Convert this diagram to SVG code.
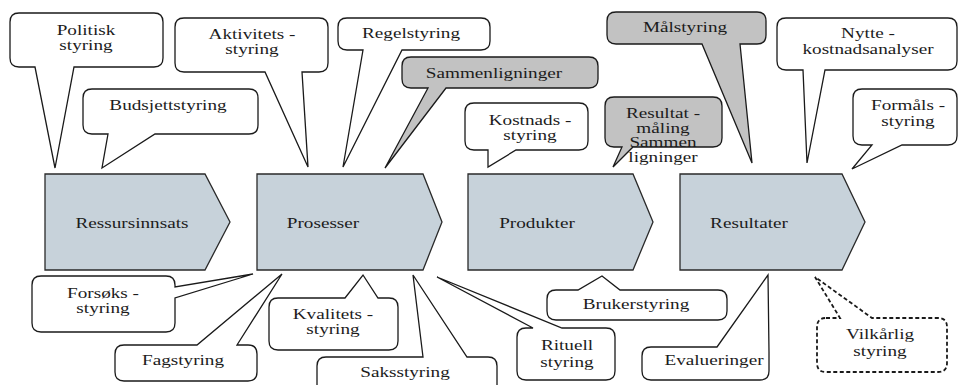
<svg xmlns="http://www.w3.org/2000/svg" width="960" height="385" viewBox="0 0 960 385">
<style>
.bg{fill:#ffffff}
.chev{fill:#c7d2da;stroke:#2a2a2a;stroke-width:1.3}
.call{fill:#ffffff;stroke:#1a1a1a;stroke-width:1.3;stroke-linejoin:miter}
.gray{fill:#c2c2c2;stroke:#1a1a1a;stroke-width:1.3}
.dash{fill:#ffffff;stroke:#1a1a1a;stroke-width:1.8;stroke-dasharray:4 2.5}
text{font-family:"Liberation Serif","Times New Roman",serif;font-size:15px;fill:#1c1c1c;text-anchor:middle}
</style>
<rect class="bg" x="0" y="0" width="960" height="385"/>

<g id="ressursinnsats">
<path class="chev" d="M45,174 H205 L230,222 L205,270 H45 Z"/>
<text transform="translate(132,228) scale(1.28,1)">Ressursinnsats</text>
</g>
<g id="prosesser">
<path class="chev" d="M257,174 H423 L442,222 L423,270 H257 Z"/>
<text transform="translate(323,228) scale(1.28,1)">Prosesser</text>
</g>
<g id="produkter">
<path class="chev" d="M468,174 H633 L653,222 L633,270 H468 Z"/>
<text transform="translate(537,228) scale(1.28,1)">Produkter</text>
</g>
<g id="resultater">
<path class="chev" d="M680,174 H842 L865,222 L842,270 H680 Z"/>
<text transform="translate(749,228) scale(1.28,1)">Resultater</text>
</g>

<g id="politisk-styring">
<path class="call" d="M19,13 H154 Q163,13 163,22 V58 Q163,67 154,67 H74 L55,168 L35,67 H19 Q10,67 10,58 V22 Q10,13 19,13 Z"/>
<text transform="translate(86,35) scale(1.28,1)">Politisk</text>
<text transform="translate(86,50) scale(1.28,1)">styring</text>
</g>
<g id="aktivitets-styring">
<path class="call" d="M184,18 H319 Q328,18 328,27 V63 Q328,72 319,72 H302 L308,167 L265,72 H184 Q175,72 175,63 V27 Q175,18 184,18 Z"/>
<text transform="translate(252,39) scale(1.28,1)">Aktivitets -</text>
<text transform="translate(252,54) scale(1.28,1)">styring</text>
</g>
<g id="budsjettstyring">
<path class="call" d="M92,89 H249 Q258,89 258,98 V125 Q258,134 249,134 H155 L102,168 L108,134 H92 Q83,134 83,125 V98 Q83,89 92,89 Z"/>
<text transform="translate(168,110) scale(1.28,1)">Budsjettstyring</text>
</g>
<g id="regelstyring">
<path class="call" d="M347,18 H481 Q490,18 490,27 V41 Q490,50 481,50 H402 L343,167 L363,50 H347 Q338,50 338,41 V27 Q338,18 347,18 Z"/>
<text transform="translate(411,38) scale(1.28,1)">Regelstyring</text>
</g>
<g id="sammenligninger">
<path class="gray" d="M411,57 H589 Q598,57 598,66 V79 Q598,88 589,88 H446 L385,168 L428,88 H411 Q402,88 402,79 V66 Q402,57 411,57 Z"/>
<text transform="translate(494,78) scale(1.28,1)">Sammenligninger</text>
</g>
<g id="kostnads-styring">
<path class="call" d="M474,103 H579 Q588,103 588,112 V141 Q588,150 579,150 H516 L488,167 L488,150 H474 Q465,150 465,141 V112 Q465,103 474,103 Z"/>
<text transform="translate(530,125) scale(1.28,1)">Kostnads -</text>
<text transform="translate(530,140) scale(1.28,1)">styring</text>
</g>
<g id="resultatmaaling">
<path class="gray" d="M614,97 H713 Q722,97 722,106 V138 Q722,147 713,147 H633 L613,167 L622,147 H614 Q605,147 605,138 V106 Q605,97 614,97 Z"/>
<text transform="translate(663,118) scale(1.28,1)">Resultat -</text>
<text transform="translate(663,133) scale(1.28,1)">måling</text>
<text transform="translate(663,147) scale(1.28,1)">Sammen</text>
<text transform="translate(663,162) scale(1.28,1)">ligninger</text>
</g>
<g id="maalstyring">
<path class="gray" d="M616,12 H757 Q766,12 766,21 V35 Q766,44 757,44 H740 L752,163 L702,44 H616 Q607,44 607,35 V21 Q607,12 616,12 Z"/>
<text transform="translate(685,32) scale(1.28,1)">Målstyring</text>
</g>
<g id="nytte-kostnadsanalyser">
<path class="call" d="M786,18 H948 Q957,18 957,27 V61 Q957,70 948,70 H825 L807,163 L803,70 H786 Q777,70 777,61 V27 Q777,18 786,18 Z"/>
<text transform="translate(868,38) scale(1.28,1)">Nytte -</text>
<text transform="translate(868,54) scale(1.28,1)">kostnadsanalyser</text>
</g>
<g id="formaals-styring">
<path class="call" d="M862,89 H948 Q957,89 957,98 V136 Q957,145 948,145 H902 L852,169 L872,145 H862 Q853,145 853,136 V98 Q853,89 862,89 Z"/>
<text transform="translate(908,110) scale(1.28,1)">Formåls -</text>
<text transform="translate(908,126) scale(1.28,1)">styring</text>
</g>

<g id="forsoks-styring">
<path class="call" d="M41,276 H166 Q175,276 175,285 V287 L253,274 L175,298 V323 Q175,332 166,332 H41 Q32,332 32,323 V285 Q32,276 41,276 Z"/>
<text transform="translate(103,298) scale(1.28,1)">Forsøks -</text>
<text transform="translate(103,313) scale(1.28,1)">styring</text>
</g>
<g id="fagstyring">
<path class="call" d="M124,345 H197 L282,274 L237,345 H248 Q257,345 257,354 V372 Q257,381 248,381 H124 Q115,381 115,372 V354 Q115,345 124,345 Z"/>
<text transform="translate(183,365) scale(1.28,1)">Fagstyring</text>
</g>
<g id="kvalitets-styring">
<path class="call" d="M278,298 H345 L363,275 L378,298 H389 Q398,298 398,307 V341 Q398,350 389,350 H278 Q269,350 269,341 V307 Q269,298 278,298 Z"/>
<text transform="translate(333,319) scale(1.28,1)">Kvalitets -</text>
<text transform="translate(333,334) scale(1.28,1)">styring</text>
</g>
<g id="saksstyring">
<path class="call" d="M326,357 H423 L413,275 L467,357 H488 Q497,357 497,366 V400 H317 V366 Q317,357 326,357 Z"/>
<text transform="translate(405,377) scale(1.28,1)">Saksstyring</text>
</g>
<g id="rituell-styring">
<path class="call" d="M526,328 H533 L437,277 L562,328 H606 Q615,328 615,337 V371 Q615,380 606,380 H526 Q517,380 517,371 V337 Q517,328 526,328 Z"/>
<text transform="translate(567,350) scale(1.28,1)">Rituell</text>
<text transform="translate(567,367) scale(1.28,1)">styring</text>
</g>
<g id="brukerstyring">
<path class="call" d="M556,290 H578 L602,276 L620,290 H718 Q727,290 727,299 V311 Q727,320 718,320 H556 Q547,320 547,311 V299 Q547,290 556,290 Z"/>
<text transform="translate(636,309) scale(1.28,1)">Brukerstyring</text>
</g>
<g id="evalueringer">
<path class="call" d="M651,347 H717 L768,275 L769,352 V371 Q769,380 760,380 H651 Q642,380 642,371 V356 Q642,347 651,347 Z"/>
<text transform="translate(714,365) scale(1.28,1)">Evalueringer</text>
</g>
<g id="vilkaarlig-styring">
<path class="dash" d="M826,318 H840 L815,277 L872,318 H938 Q947,318 947,327 V363 Q947,372 938,372 H826 Q817,372 817,363 V327 Q817,318 826,318 Z"/>
<text transform="translate(880,339) scale(1.28,1)">Vilkårlig</text>
<text transform="translate(880,356) scale(1.28,1)">styring</text>
</g>
</svg>
